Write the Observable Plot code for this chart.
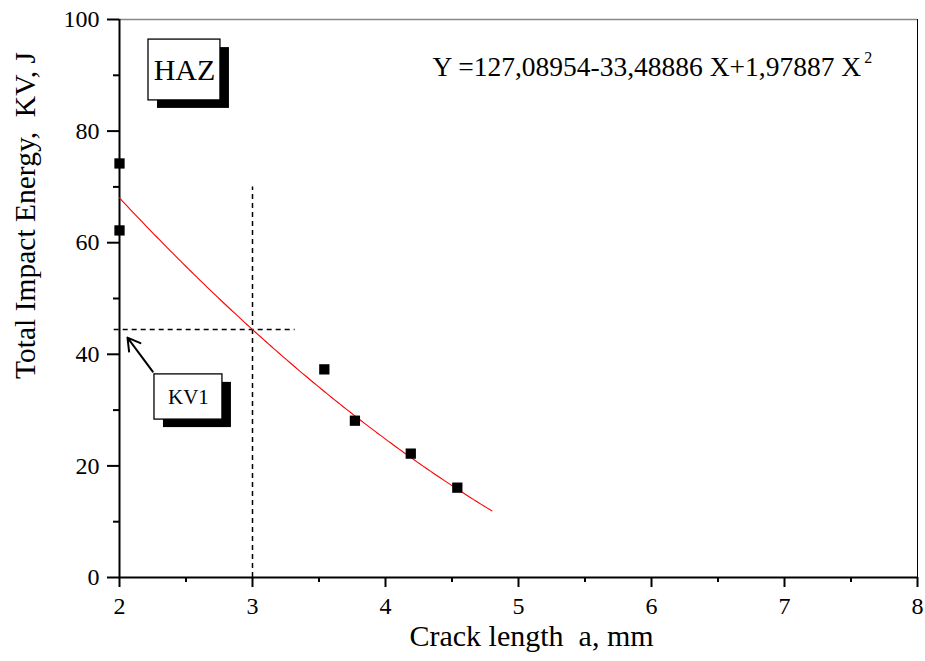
<!DOCTYPE html>
<html>
<head>
<meta charset="utf-8">
<script src="https://cdn.jsdelivr.net/npm/d3@7"></script>
<script src="https://cdn.jsdelivr.net/npm/@observablehq/plot@0.6"></script>
<style>
  html, body { margin: 0; padding: 0; background: #fff; }
  #chart svg { display: block; }
</style>
</head>
<body>
<div id="chart"></div>
<script>
// Measured impact energy (HAZ specimens) against crack length
const crackLength = [2.0, 2.0, 3.54, 3.77, 4.19, 4.54];
const impactEnergy = [74.2, 62.2, 37.3, 28.1, 22.2, 16.1];

// Quadratic fit Y = a + b X + c X^2
const fitCoefficients = [127.08954, -33.48886, 1.97887];
const fitRange = [2.0, 4.8];
const fitLabel = "Y =127,08954-33,48886 X+1,97887 X";

// Axis ticks
const xTicks = [2, 3, 4, 5, 6, 7, 8];
const xMinorTicks = [2.5, 3.5, 4.5, 5.5, 6.5, 7.5];
const yTicks = [0, 20, 40, 60, 80, 100];
const yMinorTicks = [10, 30, 50, 70, 90];

// Reference crack length for KV1
const refCrack = 3;

const fit = x => fitCoefficients[0] + fitCoefficients[1] * x + fitCoefficients[2] * x * x;
const kv1 = fit(refCrack);

const points = crackLength.map((a, i) => ({a, kv: impactEnergy[i]}));
const curve = d3.range(fitRange[0], fitRange[1] + 1e-9, 0.02).map(a => ({a, kv: fit(a)}));

// Annotation layout (data units)
const layout = {
  haz: {x1: 2.218, x2: 2.759, y1: 85.5, y2: 96.4},
  kv1Box: {x1: 2.263, x2: 2.774, y1: 28.3, y2: 36.4},
  arrow: {x1: 2.25, y1: 36.9, x2: 2.06, y2: 43.0},
  hDash: {x1: 1.96, x2: 3.32},
  vDash: {y1: 0, y2: 70},
  eq: {x: 4.353, y: 91.5}
};

const serif = "'Liberation Serif', 'Times New Roman', serif";

function shadowBox(b, label, size) {
  const c = {...b, label, cx: (b.x1 + b.x2) / 2, cy: (b.y1 + b.y2) / 2};
  return [
    Plot.rect([c], {x1: "x1", x2: "x2", y1: "y1", y2: "y2", fill: "black", dx: 9, dy: 8}),
    Plot.rect([c], {x1: "x1", x2: "x2", y1: "y1", y2: "y2", fill: "white", stroke: "black", strokeWidth: 1.3}),
    Plot.text([c], {x: "cx", y: "cy", text: "label", fontSize: size, fill: "black"})
  ];
}

const chart = Plot.plot({
  width: 925,
  height: 661,
  marginLeft: 119,
  marginRight: 8,
  marginTop: 19,
  marginBottom: 84,
  style: {fontFamily: serif, fontSize: "24px", background: "white", color: "black"},
  x: {domain: [2, 8]},
  y: {domain: [0, 100]},
  marks: [
    // frame
    Plot.ruleY([100], {stroke: "#888", strokeWidth: 1.5}),
    Plot.ruleX([8], {stroke: "black", strokeWidth: 1}),
    // axes
    Plot.axisX(xTicks, {tickSize: 10, tickPadding: 9, strokeWidth: 2, label: null, tickFormat: "d", fontSize: 24}),
    Plot.axisX(xMinorTicks, {tickSize: 5, strokeWidth: 2, text: null, label: null}),
    Plot.axisY(yTicks, {tickSize: 12, tickPadding: 8, strokeWidth: 2, label: null, tickFormat: "d", fontSize: 24}),
    Plot.axisY(yMinorTicks, {tickSize: 6, strokeWidth: 2, text: null, label: null}),
    Plot.ruleX([2], {strokeWidth: 2}),
    Plot.ruleY([0], {strokeWidth: 2}),
    // axis titles
    Plot.text(["Crack length  a, mm"], {frameAnchor: "bottom", textAnchor: "middle", lineAnchor: "middle", dx: 13, dy: 59, fontSize: 30, fill: "black"}),
    Plot.text(["Total Impact Energy,  KV, J"], {frameAnchor: "left", textAnchor: "middle", lineAnchor: "middle", dx: -94, dy: -83, rotate: -90, fontSize: 29.5, fill: "black"}),
    // dashed guide lines at the reference crack length
    Plot.ruleX([refCrack], {y1: layout.vDash.y1, y2: layout.vDash.y2, strokeWidth: 1.5, strokeDasharray: "5,4"}),
    Plot.ruleY([kv1], {x1: layout.hDash.x1, x2: layout.hDash.x2, strokeWidth: 1.5, strokeDasharray: "5,4"}),
    // fitted curve
    Plot.line(curve, {x: "a", y: "kv", stroke: "red", strokeWidth: 1.1}),
    // measurements
    Plot.dot(points, {x: "a", y: "kv", symbol: "square", r: 5.8, fill: "black", stroke: null}),
    // annotations
    ...shadowBox(layout.haz, "HAZ", 30),
    ...shadowBox(layout.kv1Box, "KV1", 21),
    Plot.arrow([layout.arrow], {x1: "x1", y1: "y1", x2: "x2", y2: "y2", strokeWidth: 2, headLength: 12, stroke: "black"}),
    Plot.text([fitLabel], {x: () => layout.eq.x, y: () => layout.eq.y, textAnchor: "start", lineAnchor: "middle", fontSize: 27.5, fill: "black"})
  ]
});

chart.querySelectorAll("text").forEach(t => {
  if (t.textContent === fitLabel) {
    const sup = document.createElementNS("http://www.w3.org/2000/svg", "tspan");
    sup.setAttribute("dy", "-13");
    sup.setAttribute("dx", "3");
    sup.setAttribute("font-size", "16");
    sup.textContent = "2";
    t.appendChild(sup);
  }
  if (t.textContent.includes("  ")) t.setAttribute("style", "white-space: pre");
});

document.getElementById("chart").appendChild(chart);
</script>
</body>
</html>
